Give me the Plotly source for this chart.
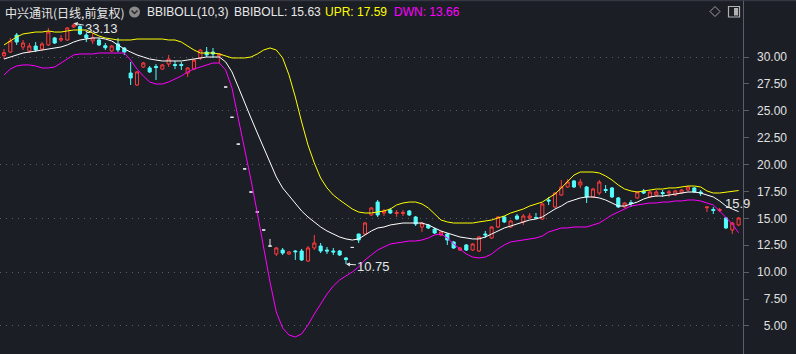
import plotly.graph_objects as go

W, H = 796, 354
PLOT_R = 743
BG = "#1b1e25"
RED = "#ff3c3c"
CYAN = "#54fcfc"
FLAT = "#e6e6e6"

# ---------------- data ----------------
open_ = [30.12, 30.46, 32.04, 30.93, 30.56, 31.02, 30.74, 31.12, 31.77, 31.58,
         31.58, 32.79, 32.83, 32.04, 31.49, 31.58, 31.05, 30.56, 31.21, 30.84,
         28.51, 27.40, 29.07, 28.98, 29.12, 28.88, 29.35, 29.30, 29.30, 28.51,
         28.88, 29.91, 30.46, 30.46, 30.09, 27.21, 24.40, 21.90, 19.60, 17.45,
         15.60, 13.92, 12.43, 11.69, 12.06, 11.69, 11.97, 11.97, 11.04, 12.25,
         12.43, 12.06, 11.97, 11.97, 11.32, 12.30, 13.55, 13.55, 15.32, 16.52,
         15.50, 15.78, 15.46, 15.46, 15.69, 15.13, 14.20, 14.39, 14.01, 13.46,
         13.55, 12.81, 12.06, 12.53, 12.06, 11.97, 13.55, 13.18, 14.20, 15.13,
         14.20, 15.22, 14.67, 15.04, 15.08, 14.94, 16.71, 16.06, 17.17, 17.92,
         18.48, 18.10, 17.92, 16.99, 17.36, 17.69, 17.83, 16.90, 16.06, 16.48,
         16.90, 17.55, 16.99, 17.17, 17.40, 17.36, 17.17, 17.36, 17.64, 17.83,
         17.45, 15.99, 15.83, 15.73, 15.04, 13.92, 14.39]
high = [30.74, 31.77, 32.23, 31.58, 31.30, 31.39, 31.39, 32.70, 31.86, 32.04,
        32.79, 33.13, 32.97, 32.23, 32.23, 31.77, 31.30, 31.12, 31.77, 30.93,
        29.54, 28.70, 29.54, 29.16, 29.35, 29.35, 30.19, 29.63, 29.54, 29.07,
        29.81, 30.74, 30.93, 30.84, 30.37, 27.21, 24.40, 21.90, 19.60, 17.45,
        15.60, 13.92, 13.09, 12.34, 12.25, 11.97, 12.06, 12.16, 12.43, 13.46,
        12.71, 12.34, 12.25, 12.06, 11.41, 12.30, 13.55, 14.67, 16.06, 16.71,
        15.87, 15.97, 15.78, 15.78, 15.78, 15.22, 14.67, 14.48, 14.11, 13.83,
        13.64, 12.90, 12.34, 12.62, 12.71, 13.36, 13.83, 14.29, 15.22, 15.22,
        14.85, 15.41, 15.41, 15.50, 15.50, 16.43, 16.99, 17.45, 18.57, 18.66,
        18.57, 18.66, 18.01, 17.83, 18.57, 18.10, 17.92, 16.99, 16.52, 16.71,
        17.55, 17.73, 17.55, 17.64, 17.64, 17.64, 17.64, 17.73, 18.01, 17.92,
        17.64, 16.06, 16.06, 15.97, 15.13, 14.67, 15.13]
low = [29.81, 30.37, 31.12, 30.65, 30.37, 30.46, 30.56, 31.02, 31.21, 31.39,
       31.49, 32.70, 32.04, 31.39, 31.21, 31.02, 30.65, 30.46, 30.46, 30.19,
       27.40, 27.30, 28.98, 28.51, 27.86, 28.79, 29.07, 28.88, 28.79, 28.14,
       28.79, 29.72, 30.00, 29.91, 29.44, 27.21, 24.40, 21.90, 19.60, 17.45,
       15.60, 13.92, 12.43, 11.51, 11.60, 11.60, 11.14, 11.04, 10.95, 12.06,
       11.78, 11.69, 11.60, 11.51, 10.75, 12.30, 12.71, 13.46, 15.22, 15.13,
       15.22, 15.41, 15.13, 15.22, 15.22, 14.29, 13.74, 14.01, 13.55, 13.36,
       12.53, 12.16, 11.97, 11.97, 11.97, 11.88, 13.18, 13.09, 14.11, 14.57,
       14.11, 14.85, 14.39, 14.94, 15.04, 14.85, 16.25, 15.97, 17.08, 17.83,
       17.83, 17.83, 16.43, 16.90, 17.17, 17.36, 16.90, 15.97, 15.97, 16.06,
       16.80, 17.27, 16.90, 16.99, 16.99, 16.99, 17.08, 17.27, 17.55, 17.36,
       17.08, 15.59, 15.41, 15.59, 14.01, 13.55, 14.29]
close = [30.40, 31.49, 31.39, 31.30, 31.02, 30.65, 31.21, 32.32, 31.30, 31.72,
         32.70, 32.97, 32.14, 31.77, 31.77, 31.12, 30.86, 31.02, 30.65, 30.46,
         28.05, 28.61, 29.44, 28.61, 29.02, 29.26, 29.81, 29.21, 29.21, 28.98,
         29.72, 30.65, 30.19, 30.28, 30.28, 27.21, 24.40, 21.90, 19.60, 17.45,
         15.60, 13.92, 12.43, 12.25, 11.78, 11.88, 11.90, 11.14, 12.25, 12.71,
         11.97, 11.97, 11.88, 11.60, 11.18, 12.30, 12.99, 14.57, 15.97, 15.32,
         15.69, 15.50, 15.55, 15.55, 15.32, 14.48, 14.57, 14.11, 13.64, 13.74,
         12.99, 12.25, 12.25, 12.06, 12.62, 13.27, 13.46, 14.20, 15.13, 14.67,
         14.76, 14.94, 15.22, 15.22, 15.04, 16.34, 16.62, 17.36, 17.92, 18.38,
         17.92, 18.38, 16.99, 17.73, 18.38, 17.59, 16.99, 16.06, 16.43, 16.38,
         17.45, 17.36, 17.45, 17.45, 17.31, 17.45, 17.55, 17.64, 17.92, 17.45,
         17.36, 16.06, 15.73, 15.83, 14.11, 14.57, 15.04]

bbi = [29.81, 30.00, 30.19, 30.37, 30.46, 30.56, 30.65, 30.74, 30.84, 30.93,
       31.12, 31.39, 31.58, 31.67, 31.77, 31.77, 31.67, 31.49, 31.12, 30.74,
       30.46, 30.19, 30.00, 29.81, 29.72, 29.63, 29.63, 29.63, 29.63, 29.72,
       29.81, 29.91, 30.00, 30.00, 30.00, 29.54, 28.61, 27.21, 25.72, 24.33,
       22.94, 21.54, 20.15, 18.85, 17.83, 17.08, 16.34, 15.69, 15.13, 14.67,
       14.20, 13.83, 13.55, 13.27, 13.09, 12.99, 13.09, 13.46, 13.83, 14.11,
       14.20, 14.39, 14.48, 14.57, 14.57, 14.57, 14.57, 14.39, 14.11, 13.83,
       13.64, 13.46, 13.27, 13.18, 13.09, 13.09, 13.27, 13.55, 13.83, 14.11,
       14.29, 14.48, 14.67, 14.85, 14.94, 15.13, 15.50, 15.87, 16.15, 16.52,
       16.71, 16.90, 16.99, 16.99, 16.90, 16.71, 16.43, 16.15, 16.15, 16.34,
       16.52, 16.80, 16.99, 17.08, 17.08, 17.17, 17.27, 17.36, 17.45, 17.45,
       17.36, 17.17, 16.99, 16.62, 16.15, 15.87, 15.63]
upr = [31.12, 31.49, 31.86, 32.14, 32.23, 32.32, 32.32, 32.42, 32.32, 32.32,
       32.42, 32.51, 32.51, 32.51, 32.23, 31.95, 31.77, 31.67, 31.58, 31.58,
       31.58, 31.67, 31.67, 31.67, 31.67, 31.67, 31.58, 31.58, 31.39, 31.02,
       30.65, 30.37, 30.37, 30.37, 30.28, 30.09, 29.91, 29.91, 29.91, 30.00,
       30.28, 30.65, 30.84, 30.65, 29.91, 28.33, 26.28, 23.96, 21.82, 20.15,
       18.75, 17.83, 17.17, 16.71, 16.25, 15.87, 15.59, 15.50, 15.50, 15.59,
       15.69, 15.87, 16.25, 16.43, 16.52, 16.52, 16.34, 15.97, 15.41, 14.85,
       14.67, 14.57, 14.57, 14.57, 14.57, 14.67, 14.76, 14.85, 15.04, 15.22,
       15.50, 15.69, 15.87, 16.15, 16.34, 16.52, 16.90, 17.27, 17.83, 18.48,
       19.03, 19.31, 19.31, 19.31, 19.22, 18.94, 18.57, 18.10, 17.73, 17.55,
       17.45, 17.55, 17.64, 17.73, 17.73, 17.83, 17.83, 17.92, 18.01, 18.01,
       17.92, 17.55, 17.36, 17.36, 17.45, 17.55, 17.59]
dwn = [28.33, 28.88, 29.16, 29.26, 29.26, 29.16, 28.98, 28.98, 29.07, 29.44,
       29.81, 30.19, 30.28, 30.28, 30.28, 30.37, 30.37, 30.37, 30.37, 30.37,
       29.72, 28.88, 28.23, 27.68, 27.49, 27.49, 27.68, 27.95, 28.23, 28.61,
       28.88, 29.07, 29.26, 29.44, 29.44, 28.79, 27.12, 24.33, 21.54, 18.57,
       15.50, 12.25, 9.09, 6.30, 4.81, 4.16, 3.98, 4.26, 5.09, 6.11,
       7.05, 7.97, 8.72, 9.28, 9.65, 10.02, 10.48, 11.14, 11.60, 12.06,
       12.34, 12.62, 12.71, 12.81, 12.90, 12.90, 12.99, 13.18, 13.46, 13.55,
       13.18, 12.62, 12.16, 11.69, 11.41, 11.32, 11.41, 11.69, 12.16, 12.53,
       12.81, 12.90, 12.99, 13.09, 13.18, 13.36, 13.74, 13.92, 14.11, 14.11,
       14.20, 14.20, 14.20, 14.39, 14.57, 14.94, 15.32, 15.59, 15.87, 16.15,
       16.25, 16.34, 16.43, 16.43, 16.52, 16.52, 16.62, 16.62, 16.71, 16.71,
       16.62, 16.43, 16.25, 15.69, 15.13, 14.48, 13.66]

tick_values = [5.0, 7.5, 10.0, 12.5, 15.0, 17.5, 20.0, 22.5, 25.0, 27.5, 30.0]
tick_labels = ["5.00", "7.50", "10.00", "12.50", "15.00", "17.50", "20.00",
               "22.50", "25.00", "27.50", "30.00"]
grid_values = [5.0, 10.0, 15.0, 20.0, 25.0, 30.0]

title_text = "中兴通讯(日线,前复权)"
ind_name = "BBIBOLL(10,3)"
side_label = "15.9"

n = len(open_)
assert all(len(a) == n for a in (high, low, close, bbi, upr, dwn))
idx = list(range(n))

Y_RANGE = [2.397, 35.297]
X_RANGE = [-0.632, 116.69]


def pick(cond, arr):
    return [arr[i] if cond(i) else None for i in idx]


fig = go.Figure()

groups = [
    (lambda i: close[i] > open_[i], RED, BG),
    (lambda i: close[i] < open_[i], CYAN, CYAN),
    (lambda i: close[i] == open_[i], FLAT, FLAT),
]
for cond, lc, fc in groups:
    fig.add_trace(go.Candlestick(
        x=idx,
        open=pick(cond, open_), high=pick(cond, high),
        low=pick(cond, low), close=pick(cond, close),
        increasing=dict(line=dict(color=lc, width=1), fillcolor=fc),
        decreasing=dict(line=dict(color=lc, width=1), fillcolor=fc),
        whiskerwidth=0, hoverinfo="skip", showlegend=False,
    ))

for arr, col, ax in ((upr, "#ffff00", "y2"), (dwn, "#ff00ff", "y2"), (bbi, "#ffffff", "y3")):
    fig.add_trace(go.Scatter(x=idx, y=arr, mode="lines", yaxis=ax,
                             line=dict(color=col, width=1),
                             hoverinfo="skip", showlegend=False))

# high / low markers
hi_i = max(idx, key=lambda i: high[i])
lo_i = min(idx, key=lambda i: low[i])
for i, v, ax_, ay_ in ((hi_i, high[hi_i], 28, 5), (lo_i, low[lo_i], 28, 2)):
    fig.add_annotation(x=i, y=v, xref="x", yref="y", text=f"{v:.2f}",
                       showarrow=True, ax=ax_, ay=ay_, arrowhead=2, arrowsize=0.8,
                       arrowwidth=1, arrowcolor="#e6e6e6", standoff=0,
                       font=dict(family="Liberation Sans", size=13, color="#e6e6e6"))


def px(x):
    return x / W


def py(y):
    return 1 - y / H


# header texts
hdr = [
    (3, title_text, "#e8e8e8", "Noto Sans CJK SC", 12),
    (145, ind_name, "#e8e8e8", "Liberation Sans", 12),
    (232, f"BBIBOLL: {bbi[-1]:.2f}", "#e8e8e8", "Liberation Sans", 12),
    (323, f"UPR: {upr[-1]:.2f}", "#ffff00", "Liberation Sans", 12),
    (392, f"DWN: {dwn[-1]:.2f}", "#ff00ff", "Liberation Sans", 12),
]
for x0, t, c, fam, sz in hdr:
    fig.add_annotation(x=px(x0), y=py(12), xref="paper", yref="paper", text=t,
                       showarrow=False, xanchor="left", yanchor="middle",
                       font=dict(family=fam, size=sz, color=c))

fig.add_annotation(x=px(723), y=py(203), xref="paper", yref="paper", text=side_label,
                   showarrow=False, xanchor="left", yanchor="middle",
                   font=dict(family="Liberation Sans", size=13, color="#e6e6e6"))

shapes = []
# grey circle icon with chevron
shapes.append(dict(type="circle", xref="paper", yref="paper",
                   x0=px(129), x1=px(140), y0=py(17.5), y1=py(6.5),
                   fillcolor="#8a8a8a", line=dict(width=0)))
shapes.append(dict(type="path", xref="paper", yref="paper",
                   path=f"M {px(131.5)} {py(10.5)} L {px(134.5)} {py(13.5)} L {px(137.5)} {py(10.5)}",
                   line=dict(color="#2a2a2a", width=1.5)))
# diamond icon
shapes.append(dict(type="path", xref="paper", yref="paper",
                   path=(f"M {px(715)} {py(6.5)} L {px(720)} {py(11.5)} L {px(715)} {py(16.5)} "
                         f"L {px(710)} {py(11.5)} Z"),
                   line=dict(color="#a0a0a0", width=1)))
# panel icon
shapes.append(dict(type="rect", xref="paper", yref="paper",
                   x0=px(728.5), x1=px(739.5), y0=py(17), y1=py(6.5),
                   line=dict(color="#b0b0b0", width=1.2)))
shapes.append(dict(type="rect", xref="paper", yref="paper",
                   x0=px(734), x1=px(738), y0=py(15.5), y1=py(8),
                   fillcolor="#b0b0b0", line=dict(width=0)))
# top separator
shapes.append(dict(type="line", xref="paper", yref="paper",
                   x0=0, x1=1, y0=py(0.7), y1=py(0.7),
                   line=dict(color="#3a3e47", width=1)))

axis_font = dict(family="Liberation Sans", size=12, color="#e0e0e0")

fig.update_layout(
    width=W, height=H,
    margin=dict(l=0, r=0, t=0, b=0),
    paper_bgcolor=BG, plot_bgcolor=BG,
    showlegend=False,
    shapes=shapes,
    xaxis=dict(domain=[0, PLOT_R / W], range=X_RANGE, visible=False,
               rangeslider=dict(visible=False), fixedrange=True),
    yaxis=dict(range=Y_RANGE, side="right", anchor="x", showgrid=False,
               zeroline=False, showline=True, linecolor="#5a5e68", linewidth=1,
               tickmode="array", tickvals=tick_values, ticks="outside",
               ticklen=5, tickcolor="#5a5e68", showticklabels=False),
    yaxis2=dict(range=Y_RANGE, overlaying="y", side="right", anchor="x",
                showgrid=True, gridcolor="#5a5e66", griddash="1px,5px", gridwidth=1,
                tickmode="array", tickvals=grid_values, zeroline=False,
                showline=False, ticks="", showticklabels=False),
    yaxis3=dict(range=Y_RANGE, overlaying="y", side="right", anchor="free",
                position=1.0, showgrid=False, zeroline=False, showline=False,
                tickmode="array", tickvals=tick_values, ticktext=tick_labels,
                ticks="", ticklabelposition="inside", ticklabelstandoff=6,
                tickfont=axis_font),
)

fig.write_html("out.html")
